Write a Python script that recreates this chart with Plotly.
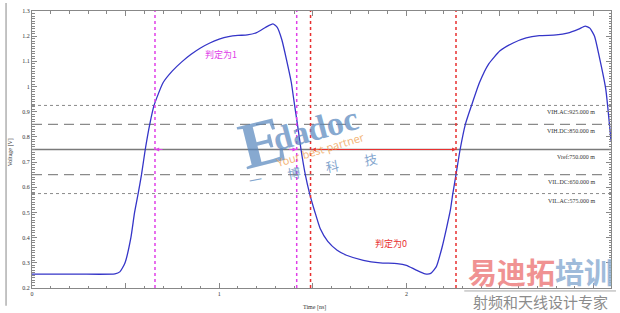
import plotly.graph_objects as go

# waveform (time in ns, voltage in V)
time_ns = [0, 0.25, 0.443, 0.469, 0.496, 0.528, 0.548, 0.567, 0.585, 0.605, 0.629, 0.652,
           0.70, 0.75, 0.80, 0.85, 0.90, 0.95, 1.0, 1.05, 1.10, 1.15, 1.20, 1.25, 1.287,
           1.31, 1.335, 1.36, 1.385, 1.40, 1.418, 1.437, 1.46, 1.483, 1.51, 1.54, 1.58,
           1.63, 1.68, 1.77, 1.86, 1.95, 2.0, 2.05, 2.10, 2.13, 2.16, 2.19, 2.215, 2.235,
           2.248, 2.265, 2.287, 2.315, 2.348, 2.39, 2.44, 2.50, 2.57, 2.64, 2.71, 2.80,
           2.86, 2.92, 2.955, 2.98, 3.005, 3.03, 3.065, 3.093]
voltage = [0.255, 0.255, 0.256, 0.264, 0.298, 0.399, 0.5, 0.575, 0.65, 0.75, 0.85, 0.925,
           1.015, 1.062, 1.098, 1.128, 1.153, 1.173, 1.188, 1.198, 1.203, 1.205, 1.214, 1.236, 1.249,
           1.235, 1.185, 1.105, 1.017, 0.94, 0.85, 0.75, 0.65, 0.575, 0.505, 0.435, 0.385,
           0.35, 0.33, 0.31, 0.30, 0.297, 0.29, 0.272, 0.256, 0.258, 0.285, 0.36, 0.44, 0.51,
           0.575, 0.65, 0.75, 0.85, 0.925, 1.015, 1.09, 1.142, 1.173, 1.193, 1.202, 1.205,
           1.212, 1.228, 1.24, 1.232, 1.20, 1.12, 0.99, 0.785]

# threshold levels
level_values = [0.925, 0.85, 0.75, 0.65, 0.575]
level_labels = ["VIH.AC:925.000 m", "VIH.DC:850.000 m", "Vref:750.000 m",
                "VIL.DC:650.000 m", "VIL.AC:575.000 m"]
level_dash = ["dot", "10px,6px", "solid", "10px,6px", "dot"]

# decision markers
magenta_marks = [0.657, 1.414]
red_marks = [1.488, 2.265]
vref = 0.75

x_tickvals = [0, 0.5, 1, 1.5, 2, 2.5, 3]
x_ticktext = ["0", "", "1", "", "2", "", ""]
y_tickvals = [0.2, 0.3, 0.4, 0.5, 0.6, 0.7, 0.8, 0.9, 1.0, 1.1, 1.2, 1.3]
y_ticktext = ["0.2", "0.3", "0.4", "0.5", "0.6", "0.7", "0.8", "0.9", "1", "1.1", "1.2", "1.3"]

MAG = "#e040e8"
RED = "#e83030"
GRAY = "#8a8a8a"

fig = go.Figure()
fig.add_trace(go.Scatter(x=time_ns, y=voltage, mode="lines",
                         line=dict(color="#3535c8", width=1.3, shape="spline", smoothing=0.5),
                         hoverinfo="skip", showlegend=False))

shapes = []
annotations = []
for v, lab, d in zip(level_values, level_labels, level_dash):
    shapes.append(dict(type="line", xref="paper", x0=0, x1=1, yref="y", y0=v, y1=v,
                       line=dict(color="#7a7a7a" if d == "solid" else GRAY,
                                 width=1.3 if d != "dot" else 1, dash=d), layer="below"))
    annotations.append(dict(xref="paper", x=0.976, yref="y", y=v, yshift=-7, text=lab,
                            showarrow=False, xanchor="right", yanchor="middle",
                            font=dict(family="Liberation Serif", size=6, color="#333")))

for t in magenta_marks:
    shapes.append(dict(type="line", xref="x", x0=t, x1=t, yref="paper", y0=0, y1=1,
                       line=dict(color=MAG, width=1.5, dash="dot")))
for t in red_marks:
    shapes.append(dict(type="line", xref="x", x0=t, x1=t, yref="paper", y0=0, y1=1,
                       line=dict(color=RED, width=1.5, dash="dot")))

# magenta short arrow heads
annotations.append(dict(x=magenta_marks[0], y=vref, xref="x", yref="y", ax=9, ay=0,
                        showarrow=True, arrowhead=2, arrowsize=0.7, arrowwidth=1.2,
                        arrowcolor=MAG, text=""))
annotations.append(dict(x=magenta_marks[1], y=vref, xref="x", yref="y", ax=-9, ay=0,
                        showarrow=True, arrowhead=2, arrowsize=0.7, arrowwidth=1.2,
                        arrowcolor=MAG, text=""))
# red double arrow
annotations.append(dict(x=red_marks[1], y=vref, xref="x", yref="y",
                        ax=red_marks[0], ay=vref, axref="x", ayref="y",
                        showarrow=True, arrowhead=2, startarrowhead=2, arrowside="end+start",
                        arrowsize=0.7, startarrowsize=0.7, arrowwidth=1.1,
                        arrowcolor=RED, text=""))

annotations.append(dict(x=1.012, y=1.128, xref="x", yref="y", text="判定为1", showarrow=False,
                        xanchor="center", yanchor="middle",
                        font=dict(family="Noto Sans CJK SC", size=9, color=MAG)))
annotations.append(dict(x=1.918, y=0.378, xref="x", yref="y", text="判定为0", showarrow=False,
                        xanchor="center", yanchor="middle",
                        font=dict(family="Noto Sans CJK SC", size=9, color=RED)))

# axis titles
annotations.append(dict(xref="paper", x=-0.038, yref="paper", y=0.49, text="Voltage [V]",
                        textangle=-90, showarrow=False, xanchor="center", yanchor="middle",
                        font=dict(family="Liberation Serif", size=6, color="#333")))
annotations.append(dict(xref="paper", x=0.488, yref="paper", y=-0.05, text="Time [ns]",
                        showarrow=False, xanchor="center", yanchor="top",
                        font=dict(family="Liberation Serif", size=6, color="#333")))


def px(x):
    return (x - 32) / 580


def py(y):
    return (288 - y) / 280


# watermarks
annotations.append(dict(xref="paper", x=px(262), yref="paper", y=py(141),
                        text="<b>E</b>", showarrow=False, textangle=-14, opacity=0.72,
                        xanchor="center", yanchor="middle",
                        font=dict(family="Liberation Serif", size=66, color="#5a88be")))
annotations.append(dict(xref="paper", x=px(316), yref="paper", y=py(127),
                        text="<b>dadoc</b>", showarrow=False, textangle=-15, opacity=0.72,
                        xanchor="center", yanchor="middle",
                        font=dict(family="Liberation Serif", size=34, color="#5a88be")))
annotations.append(dict(xref="paper", x=px(321), yref="paper", y=py(148),
                        text="Your best partner", showarrow=False, textangle=-17, opacity=0.75,
                        xanchor="center", yanchor="middle",
                        font=dict(family="Noto Sans", size=11, color="#f0a050")))
annotations.append(dict(xref="paper", x=px(313), yref="paper", y=py(168),
                        text="一　　博　　科　　技", showarrow=False, textangle=-10, opacity=0.75,
                        xanchor="center", yanchor="middle",
                        font=dict(family="Noto Sans CJK SC", size=13, color="#5a88be")))
annotations.append(dict(xref="paper", x=px(541), yref="paper", y=py(271),
                        text="<b><span style='color:#ee8080'>易迪拓</span>培训</b>", showarrow=False,
                        opacity=0.85, xanchor="center", yanchor="middle",
                        font=dict(family="Noto Sans CJK SC", size=29, color="#8fb0d4")))
annotations.append(dict(xref="paper", x=px(541), yref="paper", y=py(301.5),
                        text="射频和天线设计专家", showarrow=False, opacity=0.9,
                        xanchor="center", yanchor="middle",
                        font=dict(family="Noto Sans CJK SC", size=15, color="#808080")))
shapes.append(dict(type="line", xref="paper", x0=px(465), x1=px(617),
                   yref="paper", y0=py(291), y1=py(291),
                   line=dict(color="#aaaaaa", width=1)))
# outer left frame line
shapes.append(dict(type="line", xref="paper", x0=px(6), x1=px(6),
                   yref="paper", y0=py(306), y1=py(0),
                   line=dict(color="#b0b0b0", width=1.5)))

axis_common = dict(showline=True, linecolor="#888", linewidth=1, mirror="ticks",
                   ticks="inside", ticklen=5, tickcolor="#888", showgrid=False, zeroline=False,
                   tickfont=dict(family="Liberation Serif", size=6, color="#333"))

fig.update_layout(
    width=620, height=313, margin=dict(l=32, r=8, t=8, b=25),
    paper_bgcolor="white", plot_bgcolor="white",
    xaxis=dict(range=[0, 3.093], tickmode="array", tickvals=x_tickvals, ticktext=x_ticktext,
               minor=dict(dtick=0.1, ticks="inside", ticklen=2.5, tickcolor="#888"),
               **axis_common),
    yaxis=dict(range=[0.2, 1.3], tickmode="array", tickvals=y_tickvals, ticktext=y_ticktext,
               minor=dict(dtick=0.01, ticks="inside", ticklen=2.5, tickcolor="#888"),
               **axis_common),
    shapes=shapes, annotations=annotations, showlegend=False,
)

fig.write_html("out.html")
